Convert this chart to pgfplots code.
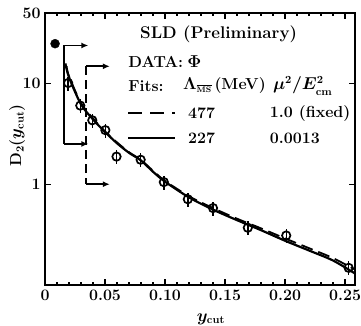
\documentclass[border=0pt]{standalone}
\usepackage{pgfplots}
\pgfplotsset{compat=1.18}
\usetikzlibrary{arrows.meta,calc}
\newcommand{\bigbf}{\fontsize{16}{19}\selectfont\bfseries\boldmath}
\begin{document}
\begin{tikzpicture}
\begin{axis}[
  scale only axis, width=310bp, height=272bp,
  xmin=0, xmax=0.2583, ymode=log, ymin=0.1, ymax=50,
  xtick={0,0.05,0.10,0.15,0.20,0.25},
  xticklabels={0,0.05,0.10,0.15,0.20,0.25},
  ytick={1,10,50}, yticklabels={1,10,50},
  minor x tick num=4,
  tick align=inside, xtick pos=both, ytick pos=both,
  major tick length=6bp, minor tick length=3bp,
  axis line style={line width=2.2pt},
  every tick/.style={line width=1.3pt, black},
  tick label style={font=\bigbf},
  xticklabel style={yshift=-2bp},
  yticklabel style={xshift=-1bp},
  clip mode=individual,
  ylabel={D$_2$($y_{\mathrm{cut}}$)},
  ylabel style={font=\bigbf, at={(axis description cs:-0.09,0.55)}, anchor=center, rotate=0},
  xlabel={$y_{\mathrm{cut}}$},
  xlabel style={font=\bigbf, at={(axis description cs:0.535,-0.125)}, anchor=center},
]
% solid fit
\addplot[black, line width=2.2pt, smooth] coordinates {
 (0.017,15.8) (0.02,11.5) (0.03,6.2) (0.04,4.4) (0.05,3.3) (0.06,2.55) (0.07,2.05)
 (0.08,1.72) (0.09,1.33) (0.10,1.06) (0.12,0.74) (0.14,0.56) (0.16,0.44) (0.18,0.35)
 (0.20,0.275) (0.22,0.22) (0.24,0.175) (0.2583,0.13)};
% dashed fit
\addplot[black, line width=1.8pt, smooth, dash pattern=on 12bp off 6bp] coordinates {
 (0.018,14.8) (0.02,11.8) (0.03,6.4) (0.04,4.5) (0.05,3.35) (0.06,2.6) (0.07,2.08)
 (0.08,1.74) (0.09,1.36) (0.10,1.08) (0.12,0.76) (0.14,0.58) (0.16,0.455) (0.18,0.365)
 (0.20,0.29) (0.22,0.232) (0.24,0.185) (0.2583,0.142)};
% data
\addplot[black, only marks, mark=*, mark size=4.5bp] coordinates {(0.0084,24.8)};
\addplot[black, only marks, mark=o, mark size=4.2bp, line width=1.7pt,
  error bars/.cd, y dir=both, y explicit relative,
  error bar style={line width=1.4pt}, error mark=none] coordinates {
 (0.0193,10.1) +- (0,0.16)
 (0.0294,6.03) +- (0,0.16)
 (0.0394,4.31) +- (0,0.16)
 (0.0503,3.44) +- (0,0.16)
 (0.0596,1.88) +- (0,0.16)
 (0.0797,1.75) +- (0,0.16)
 (0.099,1.05) +- (0,0.16)
 (0.119,0.71) +- (0,0.16)
 (0.140,0.58) +- (0,0.16)
 (0.169,0.37) +- (0,0.16)
 (0.201,0.31) +- (0,0.16)
 (0.253,0.148) +- (0,0.16)};
% fit-range brackets
\draw[line width=1.7pt] (axis cs:0.0159,23.8) -- (axis cs:0.0159,2.51);
\draw[line width=1.7pt, -{Latex[length=7bp,width=6bp]}] (axis cs:0.0159,23.8) -- (axis cs:0.0361,23.8);
\draw[line width=1.7pt, -{Latex[length=7bp,width=6bp]}] (axis cs:0.0159,2.51) -- (axis cs:0.0361,2.51);
\draw[line width=1.7pt, dash pattern=on 9bp off 5bp] (axis cs:0.0344,14.8) -- (axis cs:0.0344,1.0);
\draw[line width=1.7pt, -{Latex[length=7bp,width=6bp]}] (axis cs:0.0344,14.8) -- (axis cs:0.054,14.8);
\draw[line width=1.7pt, -{Latex[length=7bp,width=6bp]}] (axis cs:0.0344,1.0) -- (axis cs:0.054,1.0);
% text block
\node[anchor=center, inner sep=0, font=\fontsize{17}{20}\selectfont\bfseries] at (rel axis cs:0.56,0.923) {SLD (Preliminary)};
\node[anchor=west, inner sep=0, font=\bigbf] at (rel axis cs:0.268,0.820) {DATA:};
\node[anchor=center, inner sep=0, font=\bigbf] at (rel axis cs:0.482,0.820) {$\Phi$};
\node[anchor=west, inner sep=0, font=\bigbf] at (rel axis cs:0.268,0.732) {Fits:};
\node[anchor=west, inner sep=0, font=\bigbf] at (rel axis cs:0.445,0.732) {$\Lambda_{\scriptscriptstyle\overline{\mathrm{MS}}}$\,(MeV)};
\node[anchor=west, inner sep=0, font=\bigbf] at (rel axis cs:0.735,0.732) {$\mu^2/E^2_{\mathrm{cm}}$};
\draw[line width=2.2pt, dash pattern=on 14bp off 8bp] (rel axis cs:0.268,0.632) -- (rel axis cs:0.419,0.632);
\node[anchor=west, inner sep=0, font=\bigbf] at (rel axis cs:0.461,0.632) {477};
\node[anchor=west, inner sep=0, font=\bigbf] at (rel axis cs:0.725,0.632) {1.0 (fixed)};
\draw[line width=2.2pt] (rel axis cs:0.268,0.540) -- (rel axis cs:0.419,0.540);
\node[anchor=west, inner sep=0, font=\bigbf] at (rel axis cs:0.461,0.540) {227};
\node[anchor=west, inner sep=0, font=\bigbf] at (rel axis cs:0.725,0.540) {0.0013};
\coordinate (sw) at (rel axis cs:0,0);
\coordinate (ne) at (rel axis cs:1,1);
\end{axis}
\pgfresetboundingbox
\path ($(sw)+(-45bp,-41bp)$) rectangle ($(ne)+(6bp,13bp)$);
\end{tikzpicture}
\end{document}
